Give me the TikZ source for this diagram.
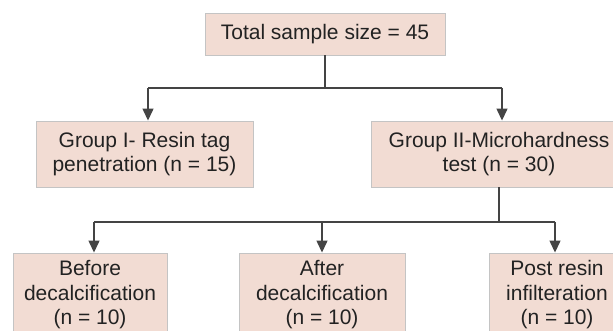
\documentclass[tikz,border=0pt]{standalone}
\usepackage{fontspec}
\setmainfont{Liberation Sans}
\usetikzlibrary{arrows.meta}
\definecolor{boxfill}{HTML}{F2DCD3}
\definecolor{boxline}{HTML}{C4C4C4}
\definecolor{conn}{HTML}{444444}
\definecolor{txt}{HTML}{222222}
\tikzset{
  stepbox/.style={draw=boxline, line width=0.9pt, fill=boxfill, text=txt, align=center,
    inner sep=0pt, font=\fontsize{21}{24.5}\selectfont},
  link/.style={draw=conn, line width=1.3pt},
  arr/.style={link, -{Triangle[width=11pt,length=12pt]}}
}
\begin{document}
\begin{tikzpicture}[x=1pt,y=-1pt]
\useasboundingbox (0,0) rectangle (613,331);
\node[stepbox, minimum width=240pt, minimum height=42pt] (top) at (325,34) {Total sample size = 45};
\node[stepbox, minimum width=217pt, minimum height=66pt] (g1) at (144.5,154) {Group I- Resin tag\\penetration (n = 15)};
\node[stepbox, minimum width=256pt, minimum height=66pt] (g2) at (499,154) {Group II-Microhardness\\test (n = 30)};
\node[stepbox, minimum width=154pt, minimum height=84pt] (b1) at (90,295) {Before\\decalcification\\(n = 10)};
\node[stepbox, minimum width=166pt, minimum height=84pt] (b2) at (322,295) {After\\decalcification\\(n = 10)};
\node[stepbox, minimum width=136pt, minimum height=84pt] (b3) at (557,295) {Post resin\\infilteration\\(n = 10)};
% top split
\coordinate (j1) at (325,88);
\coordinate (l1) at (148,88);
\coordinate (r1) at (502,88);
\draw[link] (top.south) -- (j1);
\draw[link] (l1) -- (r1);
\draw[arr] (l1) -- ([xshift=3.5pt]g1.north);
\draw[arr] (r1) -- ([xshift=3pt]g2.north);
% bottom split
\coordinate (j2) at (499,222);
\coordinate (l2) at (94,222);
\coordinate (m2) at (322,222);
\coordinate (r2) at (555,222);
\draw[link] (g2.south) -- (j2);
\draw[link] (l2) -- (r2);
\draw[arr] (l2) -- ([xshift=4pt]b1.north);
\draw[arr] (m2) -- (b2.north);
\draw[arr] (r2) -- ([xshift=-2pt]b3.north);
\end{tikzpicture}
\end{document}
